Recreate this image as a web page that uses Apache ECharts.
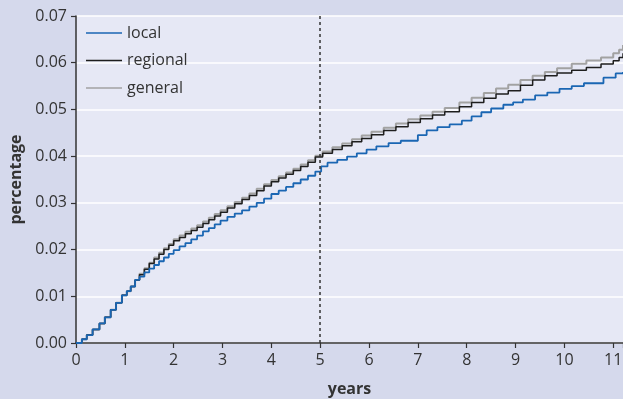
<!DOCTYPE html>
<html>
<head>
<meta charset="utf-8">
<script src="https://cdn.jsdelivr.net/npm/echarts@6/dist/echarts.min.js"></script>
<style>
  html, body { margin: 0; padding: 0; background: #d5d9ec; }
  #chart { width: 623px; height: 399px; }
</style>
</head>
<body>
<div id="chart"></div>
<script>
// shared start of all three curves (they overlap until ~1.2 years)
var earlyYears = [0, 0.12, 0.22, 0.34, 0.48, 0.59, 0.71, 0.82, 0.94, 1.04, 1.12, 1.21]
var earlyValues = [0, 0.0008, 0.0017, 0.0029, 0.0042, 0.0055, 0.0071, 0.0086, 0.0102, 0.0111, 0.0121, 0.0135]

var localYears = [1.30, 1.40, 1.50, 1.60, 1.70, 1.80, 1.90, 2.00, 2.12, 2.24, 2.36, 2.48, 2.60, 2.72, 2.84, 2.96,
  3.10, 3.25, 3.40, 3.55, 3.70, 3.85, 4.00, 4.15, 4.30, 4.45, 4.60, 4.75, 4.90, 5.02, 5.15, 5.35, 5.55, 5.75, 5.95,
  6.15, 6.40, 6.65, 7.00, 7.18, 7.40, 7.65, 7.90, 8.10, 8.30, 8.50, 8.75, 8.95, 9.15, 9.40, 9.65, 9.90, 10.15,
  10.40, 10.80, 11.05, 11.20]
var localValues = [0.0142, 0.0151, 0.0159, 0.0167, 0.0175, 0.0183, 0.0191, 0.0199, 0.0207, 0.0214, 0.0222, 0.0230,
  0.0239, 0.0246, 0.0254, 0.0262, 0.0270, 0.0277, 0.0284, 0.0292, 0.0300, 0.0309, 0.0319, 0.0326, 0.0334, 0.0342,
  0.0350, 0.0358, 0.0367, 0.0378, 0.0386, 0.0392, 0.0399, 0.0406, 0.0414, 0.0421, 0.0428, 0.0433, 0.0445, 0.0455,
  0.0462, 0.0468, 0.0476, 0.0485, 0.0494, 0.0502, 0.0510, 0.0515, 0.0521, 0.0530, 0.0536, 0.0544, 0.0550, 0.0556,
  0.0568, 0.0577, 0.0580]

var regionalYears = [1.30, 1.40, 1.50, 1.60, 1.70, 1.80, 1.90, 2.00, 2.12, 2.24, 2.36, 2.48, 2.60, 2.72, 2.84, 2.96,
  3.10, 3.25, 3.40, 3.55, 3.70, 3.85, 4.00, 4.15, 4.30, 4.45, 4.60, 4.75, 4.90, 5.05, 5.25, 5.45, 5.65, 5.85, 6.05,
  6.30, 6.55, 6.80, 7.05, 7.30, 7.55, 7.85, 8.10, 8.35, 8.60, 8.85, 9.10, 9.35, 9.60, 9.85, 10.15, 10.45, 10.75,
  11.00, 11.12, 11.20]
var regionalValues = [0.0146, 0.0158, 0.0170, 0.0180, 0.0190, 0.0200, 0.0209, 0.0219, 0.0226, 0.0234, 0.0241, 0.0248,
  0.0256, 0.0264, 0.0272, 0.0280, 0.0289, 0.0298, 0.0307, 0.0316, 0.0326, 0.0336, 0.0345, 0.0353, 0.0361, 0.0369,
  0.0378, 0.0387, 0.0398, 0.0406, 0.0414, 0.0422, 0.0431, 0.0438, 0.0446, 0.0455, 0.0463, 0.0472, 0.0480, 0.0488,
  0.0495, 0.0506, 0.0515, 0.0524, 0.0533, 0.0540, 0.0552, 0.0563, 0.0572, 0.0578, 0.0584, 0.0590, 0.0597, 0.0604,
  0.0611, 0.0620]

var generalYears = regionalYears
var generalValues = [0.0148, 0.0160, 0.0172, 0.0183, 0.0193, 0.0203, 0.0212, 0.0222, 0.0230, 0.0238, 0.0245, 0.0252,
  0.0260, 0.0268, 0.0276, 0.0284, 0.0293, 0.0302, 0.0311, 0.0320, 0.0330, 0.0340, 0.0349, 0.0357, 0.0365, 0.0373,
  0.0382, 0.0391, 0.0401, 0.0410, 0.0419, 0.0427, 0.0436, 0.0444, 0.0452, 0.0461, 0.0470, 0.0479, 0.0487, 0.0495,
  0.0503, 0.0515, 0.0525, 0.0535, 0.0545, 0.0553, 0.0563, 0.0572, 0.0580, 0.0588, 0.0598, 0.0605, 0.0611, 0.0620,
  0.0628, 0.0638]

var seriesNames = ['local', 'regional', 'general']
var cutoffYear = 5

function pairs(xs, ys) {
  var out = []
  for (var i = 0; i < xs.length; i++) out.push([xs[i], ys[i]])
  return out
}

var font = 'Open Sans'
var chart = echarts.init(document.getElementById('chart'))

chart.setOption({
  backgroundColor: '#d5d9ec',
  animation: false,
  textStyle: { fontFamily: font },
  grid: {
    left: 76,
    right: 0,
    top: 16,
    bottom: 56,
    outerBoundsMode: 'none',
    show: true,
    backgroundColor: '#e6e8f5',
    borderWidth: 0
  },
  legend: {
    data: seriesNames,
    orient: 'vertical',
    left: 81,
    top: 20,
    icon: 'rect',
    itemWidth: 36,
    itemHeight: 1.5,
    itemGap: 11.5,
    textStyle: { fontSize: 16, lineHeight: 16, color: '#333', fontFamily: font }
  },
  xAxis: {
    type: 'value',
    min: 0,
    max: 11.2,
    interval: 1,
    name: 'years',
    nameLocation: 'middle',
    nameGap: 38,
    nameTextStyle: { fontSize: 16, fontWeight: 'bold', color: '#333' },
    axisLine: { lineStyle: { color: '#333', width: 1.5 } },
    axisTick: { length: 5, lineStyle: { color: '#333', width: 1.2 } },
    axisLabel: {
      fontSize: 16,
      color: '#333',
      margin: 9,
      formatter: function(v) {
        return Number.isInteger(v) ? String(v) : ''
      }
    },
    splitLine: { show: false }
  },
  yAxis: {
    type: 'value',
    min: 0,
    max: 0.07,
    interval: 0.01,
    name: 'percentage',
    nameLocation: 'middle',
    nameGap: 52,
    nameTextStyle: { fontSize: 16, fontWeight: 'bold', color: '#333' },
    axisLine: { show: true, lineStyle: { color: '#333', width: 1.5 } },
    axisTick: { show: true, length: 5, lineStyle: { color: '#333', width: 1.2 } },
    axisLabel: {
      fontSize: 16,
      color: '#333',
      margin: 9,
      formatter: function(v) { return v.toFixed(2) }
    },
    splitLine: { lineStyle: { color: '#ffffff', width: 1.5 } }
  },
  series: [
    {
      name: 'general',
      type: 'line',
      step: 'end',
      symbol: 'none',
      color: '#a2a2a2',
      lineStyle: { width: 2, color: '#a2a2a2' },
      data: pairs(earlyYears.concat(generalYears), earlyValues.concat(generalValues))
    },
    {
      name: 'regional',
      type: 'line',
      step: 'end',
      symbol: 'none',
      color: '#1e1e1e',
      lineStyle: { width: 1.5, color: '#1e1e1e' },
      data: pairs(earlyYears.concat(regionalYears), earlyValues.concat(regionalValues))
    },
    {
      name: 'local',
      type: 'line',
      step: 'end',
      symbol: 'none',
      color: '#1a66b3',
      lineStyle: { width: 1.8, color: '#1a66b3' },
      data: pairs(earlyYears.concat(localYears), earlyValues.concat(localValues)),
      markLine: {
        silent: true,
        symbol: 'none',
        label: { show: false },
        lineStyle: { color: '#333', width: 1.5, type: [3, 3] },
        data: [{ xAxis: cutoffYear }]
      }
    }
  ]
})
</script>
</body>
</html>
